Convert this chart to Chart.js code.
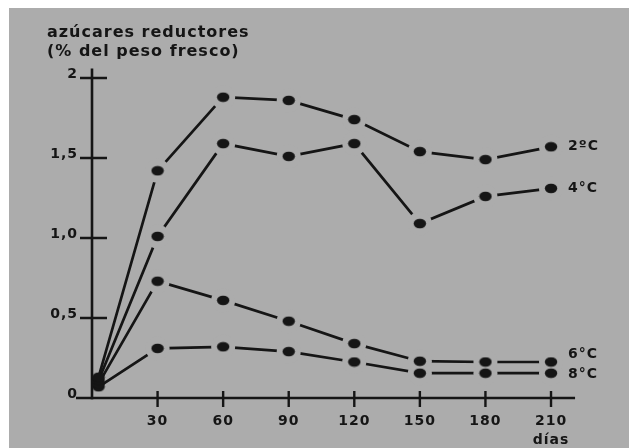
<!DOCTYPE html>
<html>
<head>
<meta charset="utf-8">
<script src="https://cdn.jsdelivr.net/npm/chart.js@4/dist/chart.umd.min.js"></script>
<style>
  html, body { margin: 0; padding: 0; background: #ffffff; }
  #wrap { width: 629px; height: 448px; position: relative; }
</style>
</head>
<body>
<div id="wrap"><canvas id="chart" width="629" height="448"></canvas></div>
<script>
// Storage time (days) and reducing-sugar content per storage temperature
const days = [3, 30, 60, 90, 120, 150, 180, 210];
const sugar2C = [0.13, 1.42, 1.88, 1.86, 1.74, 1.54, 1.49, 1.57];
const sugar4C = [0.11, 1.01, 1.59, 1.51, 1.59, 1.09, 1.26, 1.31];
const sugar6C = [0.09, 0.73, 0.61, 0.48, 0.34, 0.23, 0.225, 0.225];
const sugar8C = [0.07, 0.31, 0.32, 0.29, 0.225, 0.155, 0.155, 0.155];
const seriesNames = ['2ºC', '4°C', '6°C', '8°C'];

const xTickValues = [30, 60, 90, 120, 150, 180, 210];
const xTickLabels = ['30', '60', '90', '120', '150', '180', '210'];
const yTickValues = [0, 0.5, 1, 1.5, 2];
const yTickLabels = ['0', '0,5', '1,0', '1,5', '2'];
const titleLines = ['azúcares reductores', '(% del peso fresco)'];
const xAxisTitle = 'días';

const INK = '#151515';
const PAPER = '#acacac';
const FONT = '"DejaVu Sans", sans-serif';

// Slightly flattened dot used for every data marker
function makeDot() {
  const c = document.createElement('canvas');
  c.width = 14; c.height = 11;
  const g = c.getContext('2d');
  g.fillStyle = INK;
  g.beginPath();
  g.ellipse(7, 5.5, 6.2, 4.8, 0, 0, Math.PI * 2);
  g.fill();
  return c;
}
const dot = makeDot();

// Vertical offsets of the end labels relative to each series' last point
const labelDy = [0, 0, -8, 1];

const allSeries = [sugar2C, sugar4C, sugar6C, sugar8C];

function pts(vals) { return days.map((d, i) => ({ x: d, y: vals[i] })); }

const datasets = [];
// Connecting lines (drawn first)
allSeries.forEach((vals, k) => {
  datasets.push({
    label: seriesNames[k] + ' line',
    data: pts(vals),
    order: 3,
    borderColor: INK,
    borderWidth: 2.7,
    tension: 0,
    clip: false,
    pointRadius: 0,
    pointHoverRadius: 0
  });
});
// Paper-coloured discs so the segments stop short of each dot
allSeries.forEach((vals, k) => {
  datasets.push({
    label: seriesNames[k] + ' gap',
    data: pts(vals),
    order: 2,
    showLine: false,
    clip: false,
    pointStyle: 'circle',
    pointRadius: (ctx) => ctx.dataIndex === 0 ? 0 : 12,
    pointHoverRadius: 0,
    pointBackgroundColor: PAPER,
    pointBorderColor: PAPER,
    pointBorderWidth: 0
  });
});
// Dots on top of everything
allSeries.forEach((vals, k) => {
  datasets.push({
    label: seriesNames[k],
    data: pts(vals),
    order: 1,
    showLine: false,
    clip: false,
    pointStyle: dot,
    pointRadius: 6,
    pointHoverRadius: 6
  });
});

const decorations = {
  id: 'decorations',
  beforeDraw(chart) {
    const { ctx, width, height } = chart;
    ctx.save();
    ctx.fillStyle = '#ffffff';
    ctx.fillRect(0, 0, width, height);
    ctx.fillStyle = PAPER;
    ctx.fillRect(9, 8, width - 9, height - 8);
    ctx.restore();
  },
  beforeDatasetsDraw(chart) {
    const { ctx } = chart;
    const xs = chart.scales.x, ys = chart.scales.y;
    const x0 = xs.getPixelForValue(0);
    const y0 = ys.getPixelForValue(0);
    ctx.save();
    ctx.strokeStyle = INK;
    ctx.lineWidth = 2.6;
    ctx.lineCap = 'butt';
    // axes
    ctx.beginPath();
    ctx.moveTo(x0, ys.getPixelForValue(2.06));
    ctx.lineTo(x0, y0 + 1.5);
    ctx.moveTo(x0 - 16, y0);
    ctx.lineTo(xs.getPixelForValue(221), y0);
    ctx.stroke();
    // crossing ticks
    ctx.lineWidth = 2.4;
    ctx.beginPath();
    yTickValues.forEach(v => {
      if (v === 0) return;
      const y = ys.getPixelForValue(v);
      ctx.moveTo(x0 - 12, y);
      ctx.lineTo(x0 + 15, y);
    });
    xTickValues.forEach(v => {
      const x = xs.getPixelForValue(v);
      ctx.moveTo(x, y0 - 7);
      ctx.lineTo(x, y0 + 9);
    });
    ctx.stroke();

    ctx.fillStyle = INK;
    ctx.letterSpacing = '1px';
    ctx.font = 'bold 14px ' + FONT;
    ctx.textAlign = 'right';
    ctx.textBaseline = 'middle';
    yTickValues.forEach((v, i) => {
      ctx.fillText(yTickLabels[i], x0 - 14, ys.getPixelForValue(v) - 4);
    });
    ctx.textAlign = 'center';
    xTickValues.forEach((v, i) => {
      ctx.fillText(xTickLabels[i], xs.getPixelForValue(v), y0 + 23);
    });
    ctx.fillText(xAxisTitle, xs.getPixelForValue(210), y0 + 42);

    // axis title
    ctx.font = 'bold 16px ' + FONT;
    ctx.textAlign = 'left';
    ctx.fillText(titleLines[0], 47, 33);
    ctx.fillText(titleLines[1], 47, 52);

    // series labels beside the last points
    ctx.font = 'bold 14px ' + FONT;
    allSeries.forEach((vals, k) => {
      const n = vals.length - 1;
      ctx.fillText(seriesNames[k], xs.getPixelForValue(days[n]) + 17,
                   ys.getPixelForValue(vals[n]) + labelDy[k]);
    });
    ctx.restore();
  }
};

new Chart(document.getElementById('chart'), {
  type: 'line',
  data: { datasets },
  options: {
    responsive: false,
    animation: false,
    devicePixelRatio: 1,
    events: [],
    layout: { padding: { left: 92, right: 45.2, top: 46, bottom: 50 } },
    plugins: { legend: { display: false }, tooltip: { enabled: false } },
    scales: {
      x: { type: 'linear', min: 0, max: 225, display: false },
      y: { type: 'linear', min: 0, max: 2.2, display: false }
    }
  },
  plugins: [decorations]
});
</script>
</body>
</html>
